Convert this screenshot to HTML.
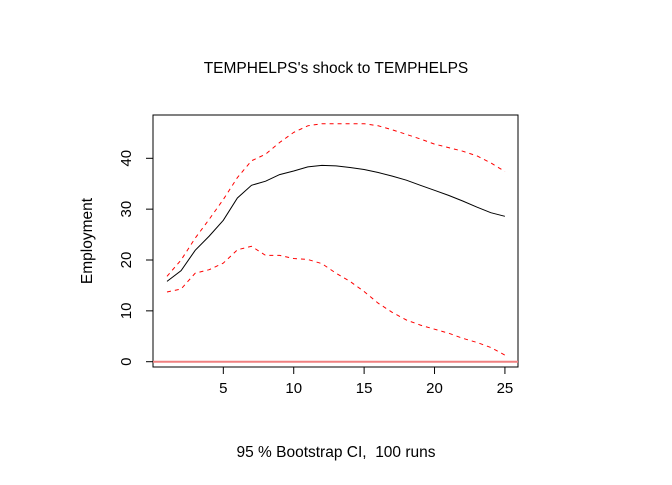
<!DOCTYPE html>
<html><head><meta charset="utf-8"><style>
body{margin:0;background:#fff}
svg text{font-family:"Liberation Sans",Arial,sans-serif;fill:#000;white-space:pre}
</style></head><body>
<svg id="chart" width="672" height="480">
<rect width="672" height="480" fill="#fff"/>
<text x="336" y="73" font-size="15.5" text-anchor="middle">TEMPHELPS's shock to TEMPHELPS</text>
<text x="336" y="457" font-size="15.5" text-anchor="middle" xml:space="preserve">95 % Bootstrap CI,  100 runs</text>
<text transform="translate(92,241) rotate(-90)" font-size="15.5" text-anchor="middle">Employment</text>
<rect x="153" y="115" width="365" height="252" fill="none" stroke="#000" stroke-width="1"/>
<g id="axes"></g>
<g id="series"></g>
</svg>
<script>
const horizons=[1,2,3,4,5,6,7,8,9,10,11,12,13,14,15,16,17,18,19,20,21,22,23,24,25];
const irfValues=[15.8,17.9,21.9,24.7,27.8,32.2,34.7,35.5,36.8,37.5,38.3,38.6,38.5,38.2,37.8,37.2,36.5,35.7,34.7,33.7,32.7,31.6,30.4,29.3,28.6];
const upperValues=[16.8,20,24.3,28,31.9,36.2,39.5,40.8,43.1,45.1,46.4,46.8,46.8,46.8,46.8,46.4,45.6,44.7,43.8,42.8,42.1,41.4,40.5,39.1,37.4];
const lowerValues=[13.7,14.3,17.4,18.1,19.4,22,22.7,20.9,20.9,20.3,20.1,19.3,17.4,15.8,13.8,11.5,9.7,8.2,7.2,6.4,5.6,4.6,3.8,2.8,1.3];
const xTicks=[5,10,15,20,25];
const yTicks=[0,10,20,30,40];
const NS="http://www.w3.org/2000/svg";
const sx=v=>167+(v-1)*14.08;
const sy=v=>361.7-v*5.085;
const ax=document.getElementById('axes'),se=document.getElementById('series');
function mk(tag,attrs,parent){const e=document.createElementNS(NS,tag);for(const k in attrs)e.setAttribute(k,attrs[k]);parent.appendChild(e);return e;}
xTicks.forEach(t=>{
  const l=mk('line',{x1:sx(t),x2:sx(t),y1:367,y2:374,stroke:'#000'},ax);
  
  
  const tx=mk('text',{x:sx(t),y:393,'font-size':15,'text-anchor':'middle'},ax);tx.textContent=t;
  
  
});
yTicks.forEach(t=>{
  const l=mk('line',{x1:146,x2:153,y1:sy(t),y2:sy(t),stroke:'#000'},ax);
  
  
  const tx=mk('text',{x:0,y:0,'font-size':15,'text-anchor':'middle',transform:`translate(131,${sy(t)}) rotate(-90)`},ax);tx.textContent=t;
  
  
});
const z=mk('line',{x1:153,x2:518,y1:sy(0),y2:sy(0),stroke:'#f08080','stroke-width':2},se);


function pts(arr){return arr.map((v,i)=>sx(horizons[i]).toFixed(1)+','+sy(v).toFixed(1)).join(' ');}
const up=mk('polyline',{points:pts(upperValues),fill:'none',stroke:'#ff0000','stroke-width':1,'stroke-dasharray':'4,4'},se);


const lo=mk('polyline',{points:pts(lowerValues),fill:'none',stroke:'#ff0000','stroke-width':1,'stroke-dasharray':'4,4'},se);


const ir=mk('polyline',{points:pts(irfValues),fill:'none',stroke:'#000','stroke-width':1},se);


</script>
</body></html>
